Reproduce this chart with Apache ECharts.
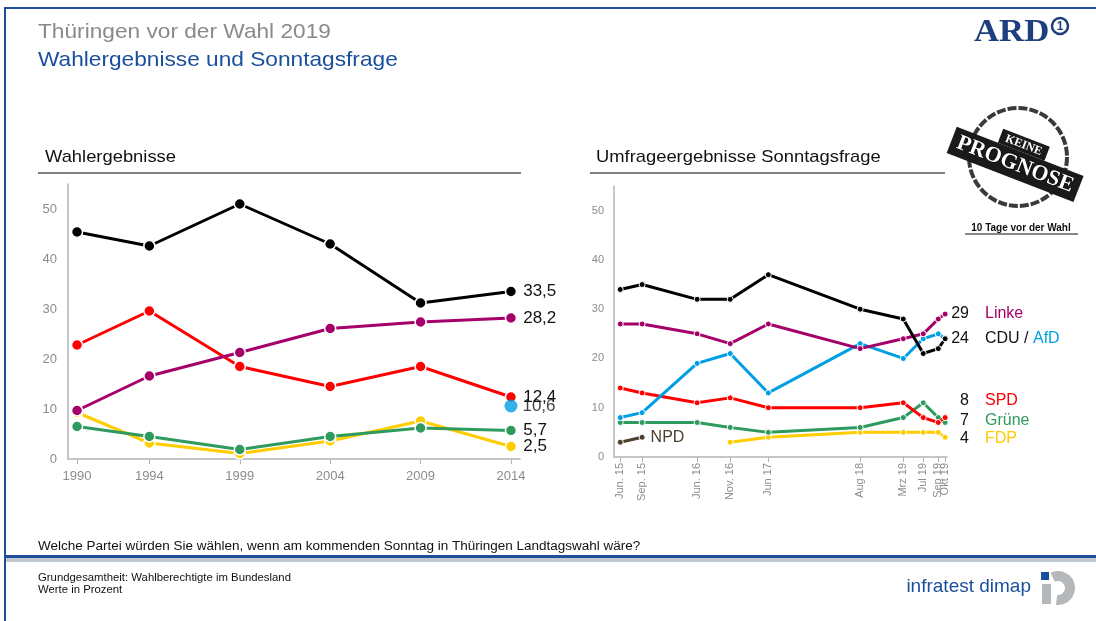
<!DOCTYPE html>
<html>
<head>
<meta charset="utf-8">
<script src="https://cdn.jsdelivr.net/npm/echarts@6/dist/echarts.min.js"></script>
<style>
html,body{margin:0;padding:0;background:#fff;}
#chart{width:1096px;height:621px;}
</style>
</head>
<body>
<div id="chart"></div>
<script>
// ---------- Data: Wahlergebnisse ----------
const electionYears = [1990, 1994, 1999, 2004, 2009, 2014];
const cduElection   = [45.4, 42.6, 51.0, 43.0, 31.2, 33.5];
const spdElection   = [22.8, 29.6, 18.5, 14.5, 18.5, 12.4];
const linkeElection = [9.7, 16.6, 21.3, 26.1, 27.4, 28.2];
const fdpElection   = [9.3, 3.2, 1.1, 3.6, 7.6, 2.5];
const grueneElection= [6.5, 4.5, 1.9, 4.5, 6.2, 5.7];
const afdElectionYear = 2014;
const afdElection   = 10.6;

// ---------- Data: Sonntagsfrage ----------
const pollLabels = ['Jun. 15', 'Sep. 15', 'Jun. 16', 'Nov. 16', 'Jun 17', 'Aug 18', 'Mrz 19', 'Jul 19', 'Sep 19', 'Okt 19'];
// poll dates as months since Jan 2015
const pollMonths = [5.5, 9.0, 17.8, 23.1, 29.2, 43.9, 50.8, 54.0, 56.4, 57.5];
const cduPoll    = [34, 35, 32, 32, 37, 30, 28, 21, 22, 24];
const linkePoll  = [27, 27, 25, 23, 27, 22, 24, 25, 28, 29];
const afdPoll    = [8, 9, 19, 21, 13, 23, 20, 24, 25, 24];
const spdPoll    = [14, 13, 11, 12, 10, 10, 11, 8, 7, 8];
const gruenePoll = [7, 7, 7, 6, 5, 6, 8, 11, 8, 7];
const fdpPoll    = [null, null, null, 3, 4, 5, 5, 5, 5, 4];
const npdPoll    = [3, 4, null, null, null, null, null, null, null, null];

const yTicks = [0, 10, 20, 30, 40, 50];

const C = {
  cdu: '#000000', spd: '#ff0000', linke: '#a5006a', gruene: '#2f9a5e',
  fdp: '#ffcc00', afd: '#009fe3', npd: '#4d4030'
};
const FONT = '"Liberation Sans", Arial, sans-serif';
const SX = 1.08; // horizontal stretch of the reference slide text

function deComma(v) { return String(v).replace('.', ','); }

function electionSeries(name, vals, color, z) {
  const data = vals.map((v, i) => {
    const item = { value: [electionYears[i], v] };
    if (i === vals.length - 1) {
      item.label = { show: true, position: 'right', distance: 6, formatter: deComma(v),
        color: '#111', fontSize: 17, fontFamily: FONT };
    }
    return item;
  });
  return {
    name: name, type: 'line', xAxisIndex: 0, yAxisIndex: 0, data: data, z: z,
    symbol: 'circle', symbolSize: 11,
    lineStyle: { color: color, width: 3 },
    itemStyle: { color: color, borderColor: '#fff', borderWidth: 1.5 },
    emphasis: { disabled: true }, animation: false
  };
}

function pollSeries(name, vals, color, z, extraLabel) {
  const data = [];
  vals.forEach((v, i) => {
    if (v === null) return;
    data.push({ value: [pollMonths[i], v] });
  });
  if (extraLabel) {
    const lastItem = data[data.length - 1];
    lastItem.label = { show: true, position: 'right', distance: 5, formatter: extraLabel,
      color: color, fontSize: 16, fontFamily: FONT };
  }
  return {
    name: name, type: 'line', xAxisIndex: 1, yAxisIndex: 1, data: data, z: z,
    symbol: 'circle', symbolSize: 6,
    lineStyle: { color: color, width: 3 },
    itemStyle: { color: color, borderColor: '#fff', borderWidth: 1 },
    emphasis: { disabled: true }, animation: false
  };
}

const series = [
  electionSeries('FDP', fdpElection, C.fdp, 2),
  electionSeries('Grüne', grueneElection, C.gruene, 3),
  electionSeries('SPD', spdElection, C.spd, 4),
  electionSeries('Linke', linkeElection, C.linke, 5),
  electionSeries('CDU', cduElection, C.cdu, 6),
  {
    name: 'AfD', type: 'scatter', xAxisIndex: 0, yAxisIndex: 0, z: 7,
    symbolSize: 13, itemStyle: { color: C.afd },
    data: [{ value: [afdElectionYear, afdElection],
      label: { show: true, position: 'right', distance: 5, formatter: deComma(afdElection),
        color: '#111', fontSize: 17, fontFamily: FONT } }],
    emphasis: { disabled: true }, animation: false
  },
  pollSeries('NPD', npdPoll, C.npd, 2, 'NPD'),
  pollSeries('FDP', fdpPoll, C.fdp, 3),
  pollSeries('Grüne', gruenePoll, C.gruene, 4),
  pollSeries('SPD', spdPoll, C.spd, 5),
  pollSeries('AfD', afdPoll, C.afd, 6),
  pollSeries('Linke', linkePoll, C.linke, 7),
  pollSeries('CDU', cduPoll, C.cdu, 8)
];

const last = a => a[a.length - 1];

// right-hand end labels of the poll chart
const endLabels = [
  { num: last(linkePoll), y: 314, rich: '{l|Linke}' },
  { num: last(cduPoll), y: 339, rich: '{k|CDU} {k|/} {a|AfD}' },
  { num: last(spdPoll), y: 401, rich: '{s|SPD}' },
  { num: last(gruenePoll), y: 421, rich: '{g|Grüne}' },
  { num: last(fdpPoll), y: 439, rich: '{f|FDP}' }
];

function txt(x, y, text, font, fill, extra) {
  return Object.assign({ type: 'text', x: x, y: y, scaleX: SX,
    style: { text: text, fill: fill, font: font, verticalAlign: 'middle' } }, extra || {});
}

const graphics = [
  // frame lines
  { type: 'rect', shape: { x: 4, y: 7, width: 1092, height: 2 }, style: { fill: '#1f4e9a' } },
  { type: 'rect', shape: { x: 4, y: 7, width: 2, height: 614 }, style: { fill: '#1f4e9a' } },
  { type: 'rect', shape: { x: 4, y: 555, width: 1092, height: 3 }, style: { fill: '#1f4e9a' } },
  { type: 'rect', shape: { x: 6, y: 558, width: 1090, height: 4 }, style: { fill: '#c3c9d1' } },
  // titles
  txt(38, 32, 'Thüringen vor der Wahl 2019', '21px ' + FONT, '#8a8a8a'),
  txt(38, 60, 'Wahlergebnisse und Sonntagsfrage', '21px ' + FONT, '#1a4f9c'),
  // ARD logo
  { type: 'text', x: 974, y: 33, scaleX: 1.12, style: { text: 'ARD', fill: '#1d3f7e',
      font: 'bold 31px "Liberation Serif", "DejaVu Serif", serif', verticalAlign: 'middle' } },
  { type: 'circle', shape: { cx: 1060, cy: 26, r: 8 }, style: { fill: '#fff', stroke: '#1d3f7e', lineWidth: 2.5 } },
  { type: 'text', x: 1060, y: 26.5, style: { text: '1', fill: '#1d3f7e', font: 'bold 12px ' + FONT,
      align: 'center', verticalAlign: 'middle' } },
  // panel headings
  txt(45, 157, 'Wahlergebnisse', '17px ' + FONT, '#111'),
  { type: 'line', shape: { x1: 38, y1: 173, x2: 521, y2: 173 }, style: { stroke: '#808080', lineWidth: 2 } },
  txt(596, 157, 'Umfrageergebnisse Sonntagsfrage', '17px ' + FONT, '#111'),
  { type: 'line', shape: { x1: 590, y1: 173, x2: 945, y2: 173 }, style: { stroke: '#808080', lineWidth: 2 } },
  // stamp
  { type: 'circle', shape: { cx: 1018, cy: 157, r: 49 }, style: { fill: 'none', stroke: '#3a3a3a', lineWidth: 4, lineDash: [9, 2] } },
  { type: 'group', x: 1018, y: 157, rotation: -0.37, children: [
      { type: 'rect', shape: { x: -68, y: -6, width: 136, height: 28 }, style: { fill: '#1a1a1a' } },
      { type: 'text', x: 0, y: 8, style: { text: 'PROGNOSE', fill: '#fff', stroke: '#000', lineWidth: 1,
          font: 'bold 22px "Liberation Serif", "DejaVu Serif", serif', align: 'center', verticalAlign: 'middle' } },
      { type: 'rect', shape: { x: -24, y: -21, width: 50, height: 15 }, style: { fill: '#1a1a1a' } },
      { type: 'text', x: 1, y: -13, style: { text: 'KEINE', fill: '#fff',
          font: 'bold 12px "Liberation Serif", "DejaVu Serif", serif', align: 'center', verticalAlign: 'middle' } }
  ] },
  { type: 'text', x: 1021, y: 228, style: { text: '10 Tage vor der Wahl', fill: '#111', font: 'bold 10px ' + FONT,
      align: 'center', verticalAlign: 'middle' } },
  { type: 'line', shape: { x1: 965, y1: 234, x2: 1078, y2: 234 }, style: { stroke: '#111', lineWidth: 1 } },
  // question & footer
  txt(38, 547, 'Welche Partei würden Sie wählen, wenn am kommenden Sonntag in Thüringen Landtagswahl wäre?', '12.5px ' + FONT, '#111'),
  txt(38, 578, 'Grundgesamtheit: Wahlberechtigte im Bundesland', '10.5px ' + FONT, '#111'),
  txt(38, 590, 'Werte in Prozent', '10.5px ' + FONT, '#111'),
  { type: 'text', x: 1031, y: 587, style: { text: 'infratest dimap', fill: '#1a4f9c', font: '19px "Liberation Sans Narrow", ' + FONT,
      align: 'right', verticalAlign: 'middle' } },
  { type: 'sector', shape: { cx: 1058, cy: 588, r0: 7, r: 17, startAngle: -Math.PI / 2 - 0.45, endAngle: Math.PI / 2 + 0.12, clockwise: true },
      style: { fill: '#b5b8bb' } },
  { type: 'rect', shape: { x: 1042, y: 584, width: 9, height: 20 }, style: { fill: '#b5b8bb' } },
  { type: 'rect', shape: { x: 1041, y: 572, width: 8, height: 8 }, style: { fill: '#1a4f9c' } }
];

endLabels.forEach(e => {
  graphics.push({ type: 'text', x: 969, y: e.y, style: { text: String(e.num), fill: '#111', font: '16px ' + FONT,
    align: 'right', verticalAlign: 'middle' } });
  graphics.push({ type: 'text', x: 985, y: e.y, style: { text: e.rich, font: '16px ' + FONT, verticalAlign: 'middle',
    rich: {
      l: { fill: C.linke, font: '16px ' + FONT }, k: { fill: '#111', font: '16px ' + FONT },
      a: { fill: C.afd, font: '16px ' + FONT }, s: { fill: C.spd, font: '16px ' + FONT },
      g: { fill: C.gruene, font: '16px ' + FONT }, f: { fill: C.fdp, font: '16px ' + FONT }
    } } });
});

const axisGray = '#b4b4b4';
const labelGray = '#8c8c8c';

function pollLabelFmt(v) {
  const i = pollMonths.findIndex(m => Math.abs(m - v) < 0.01);
  return i >= 0 ? pollLabels[i] : '';
}
// the two most recent dates sit very close together; their labels are split
// over two overlaid axes so neither gets dropped
const pollMain = pollMonths.slice(0, pollMonths.length - 1);
const pollLastOnly = pollMonths.slice(pollMonths.length - 1);

const option = {
  backgroundColor: '#fff',
  animation: false,
  grid: [
    { left: 68, top: 184, width: 452, height: 275, outerBoundsMode: 'none', containLabel: false },
    { left: 614, top: 186, width: 333, height: 271, outerBoundsMode: 'none', containLabel: false }
  ],
  xAxis: [
    { type: 'value', gridIndex: 0, min: 1989.5, max: 2014.5,
      axisLine: { show: true, lineStyle: { color: axisGray, width: 1.5 } },
      axisTick: { show: true, customValues: electionYears, length: 5, lineStyle: { color: axisGray } },
      axisLabel: { customValues: electionYears, color: labelGray, fontSize: 13, fontFamily: FONT, margin: 11,
        hideOverlap: false, formatter: v => String(v) },
      splitLine: { show: false } },
    { type: 'value', gridIndex: 1, min: 4.5, max: 57.8,
      axisLine: { show: true, lineStyle: { color: axisGray, width: 1.5 } },
      axisTick: { show: true, customValues: pollMonths, length: 5, lineStyle: { color: axisGray } },
      axisLabel: { customValues: pollMain, rotate: 90, color: labelGray, fontSize: 11, fontFamily: FONT, margin: 6,
        hideOverlap: false, showMinLabel: true, showMaxLabel: true, formatter: pollLabelFmt },
      splitLine: { show: false } },
    { type: 'value', gridIndex: 1, min: 4.5, max: 57.8, position: 'bottom',
      axisLine: { show: false }, axisTick: { show: false },
      axisLabel: { customValues: pollLastOnly, rotate: 90, color: labelGray, fontSize: 11, fontFamily: FONT, margin: 6,
        hideOverlap: false, showMinLabel: true, showMaxLabel: true, formatter: pollLabelFmt },
      splitLine: { show: false } }
  ],
  yAxis: [
    { type: 'value', gridIndex: 0, min: 0, max: 55,
      axisLine: { show: true, lineStyle: { color: axisGray, width: 1.5 } },
      axisTick: { show: false },
      axisLabel: { customValues: yTicks, color: labelGray, fontSize: 13, fontFamily: FONT, margin: 11 },
      splitLine: { show: false } },
    { type: 'value', gridIndex: 1, min: 0, max: 55,
      axisLine: { show: true, lineStyle: { color: axisGray, width: 1.5 } },
      axisTick: { show: false },
      axisLabel: { customValues: yTicks, color: labelGray, fontSize: 11, fontFamily: FONT, margin: 10 },
      splitLine: { show: false } }
  ],
  series: series,
  graphic: graphics
};

const chart = echarts.init(document.getElementById('chart'), null, { renderer: 'canvas' });
chart.setOption(option);
</script>
</body>
</html>
